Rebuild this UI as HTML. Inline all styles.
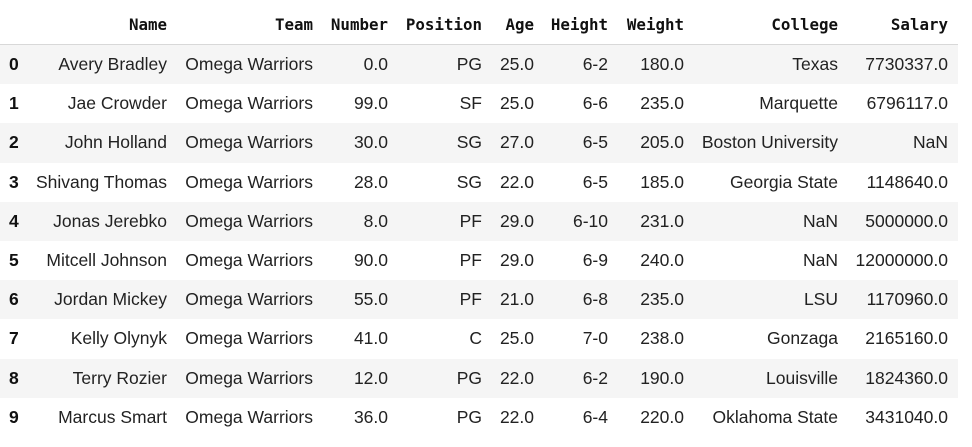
<!DOCTYPE html>
<html><head><meta charset="utf-8"><style>
body{margin:0;width:972px;height:447px;background:#fff;overflow:hidden;position:relative;font-family:"Liberation Sans",Arial,sans-serif;color:#222;}
.r{position:absolute;left:0;width:958px;height:39.2px}
.g{background:#f5f5f5}
.c{position:absolute;font-size:17.5px;line-height:39px;text-align:right;white-space:nowrap}
.h{position:absolute;top:5px;font-family:"DejaVu Sans Mono","Liberation Mono",monospace;font-weight:bold;font-size:15.8px;line-height:40px;text-align:right;white-space:nowrap;color:#111}
.i{position:absolute;left:9px;font-weight:bold;font-size:17.5px;line-height:39px;color:#111}
.hl{position:absolute;left:0;top:44px;width:958px;height:1px;background:#d8d8d8}
</style></head><body>
<div class="hl"></div>
<div id="t"></div>
<script>
var rights=[167,313,388,482,534,608,684,838,948];
var heads=["Name","Team","Number","Position","Age","Height","Weight","College","Salary"];
var rows=[
["Avery Bradley","Omega Warriors","0.0","PG","25.0","6-2","180.0","Texas","7730337.0"],
["Jae Crowder","Omega Warriors","99.0","SF","25.0","6-6","235.0","Marquette","6796117.0"],
["John Holland","Omega Warriors","30.0","SG","27.0","6-5","205.0","Boston University","NaN"],
["Shivang Thomas","Omega Warriors","28.0","SG","22.0","6-5","185.0","Georgia State","1148640.0"],
["Jonas Jerebko","Omega Warriors","8.0","PF","29.0","6-10","231.0","NaN","5000000.0"],
["Mitcell Johnson","Omega Warriors","90.0","PF","29.0","6-9","240.0","NaN","12000000.0"],
["Jordan Mickey","Omega Warriors","55.0","PF","21.0","6-8","235.0","LSU","1170960.0"],
["Kelly Olynyk","Omega Warriors","41.0","C","25.0","7-0","238.0","Gonzaga","2165160.0"],
["Terry Rozier","Omega Warriors","12.0","PG","22.0","6-2","190.0","Louisville","1824360.0"],
["Marcus Smart","Omega Warriors","36.0","PG","22.0","6-4","220.0","Oklahoma State","3431040.0"]];
var h="";
heads.forEach(function(t,j){h+='<div class="h" style="right:'+(972-rights[j])+'px">'+t+'</div>';});
rows.forEach(function(r,i){
 var top=45+39.2*i;
 h+='<div class="r'+(i%2==0?' g':'')+'" style="top:'+top+'px"></div>';
 h+='<div class="i" style="top:'+top+'px">'+i+'</div>';
 r.forEach(function(t,j){h+='<div class="c" style="top:'+top+'px;right:'+(972-rights[j])+'px">'+t+'</div>';});
});
document.getElementById("t").innerHTML=h;
</script>
</body></html>
